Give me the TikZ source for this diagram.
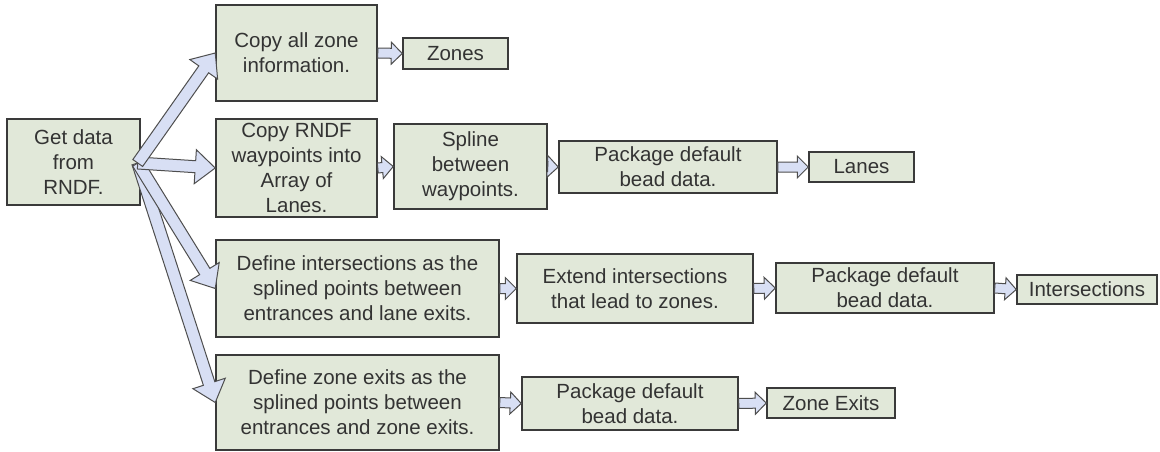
\documentclass[tikz,border=0pt]{standalone}
\usepackage{fontspec}
\setmainfont{Liberation Sans}
\usetikzlibrary{calc}
\definecolor{boxfill}{HTML}{E1E8D9}
\definecolor{boxline}{HTML}{3A3A3A}
\definecolor{arrfill}{HTML}{D8DFF4}
\definecolor{txt}{HTML}{333333}

% hollow block arrow: from, to, half shaft, half head, head length
\newcommand{\fatarrow}[5]{%
  \path (#1) coordinate (fa_s) (#2) coordinate (fa_t);
  \path ($(fa_t)!#5!(fa_s)$) coordinate (fa_h);
  \draw[arrowbox] ($(fa_s)!#3!90:(fa_t)$) -- ($(fa_h)!#3!90:(fa_t)$) -- ($(fa_h)!#4!90:(fa_t)$)
    -- (fa_t) -- ($(fa_h)!#4!-90:(fa_t)$) -- ($(fa_h)!#3!-90:(fa_t)$) -- ($(fa_s)!#3!-90:(fa_t)$) -- cycle;
}

\begin{document}
\begin{tikzpicture}[x=1pt,y=-1pt,
    stepbox/.style={draw=boxline,line width=1.5pt,fill=boxfill,text=txt,inner sep=0pt,align=center,
      font=\fontsize{20.5}{25}\selectfont},
    arrowbox/.style={draw=boxline!90,line width=1pt,fill=arrfill,line join=miter}]
  \useasboundingbox[fill=white] (0,0) rectangle (1160,452);

  \node[stepbox,minimum width=133,minimum height=86] (get) at (73.5,162) {Get data\\from\\RNDF.};

  % zones
  \node[stepbox,minimum width=161,minimum height=96] (copy_zone) at (296.5,53) {Copy all zone\\information.};
  \node[stepbox,minimum width=105,minimum height=31] (zones) at (455.5,53.5) {Zones};

  % lanes
  \node[stepbox,minimum width=161,minimum height=98] (copy_rndf) at (296.5,168) {Copy RNDF\\waypoints into\\Array of\\Lanes.};
  \node[stepbox,minimum width=153,minimum height=85] (spline) at (470.5,166.5) {Spline\\between\\waypoints.};
  \node[stepbox,minimum width=218,minimum height=52] (pkg_lanes) at (668,167) {Package default\\bead data.};
  \node[stepbox,minimum width=105,minimum height=30] (lanes) at (861.5,167) {Lanes};

  % intersections
  \node[stepbox,minimum width=283,minimum height=97] (def_int) at (357.5,288.5) {Define intersections as the\\splined points between\\entrances and lane exits.};
  \node[stepbox,minimum width=236,minimum height=69] (ext_int) at (635,288.5) {Extend intersections\\that lead to zones.};
  \node[stepbox,minimum width=218,minimum height=50] (pkg_int) at (885,288) {Package default\\bead data.};
  \node[stepbox,minimum width=140,minimum height=29] (inter) at (1087,289.5) {Intersections};

  % zone exits
  \node[stepbox,minimum width=283,minimum height=95] (def_exit) at (357.5,402.5) {Define zone exits as the\\splined points between\\entrances and zone exits.};
  \node[stepbox,minimum width=216,minimum height=53] (pkg_exit) at (630,403.5) {Package default\\bead data.};
  \node[stepbox,minimum width=128,minimum height=30] (exits) at (831,403) {Zone Exits};

  \coordinate (fan) at ($(get.east)+(-3,1)$);
  \fatarrow{fan}{def_exit.west}{6pt}{17pt}{20pt}
  \fatarrow{fan}{def_int.west}{6pt}{17pt}{20pt}
  \fatarrow{fan}{copy_rndf.west}{6pt}{17pt}{20pt}
  \fatarrow{fan}{copy_zone.west}{6pt}{17pt}{20pt}

  \fatarrow{copy_zone.east}{zones.west}{5pt}{11pt}{11pt}
  \fatarrow{copy_rndf.east}{spline.west}{5pt}{11pt}{11pt}
  \fatarrow{spline.east}{pkg_lanes.west}{5pt}{11pt}{11pt}
  \fatarrow{pkg_lanes.east}{lanes.west}{5pt}{11pt}{11pt}
  \fatarrow{def_int.east}{ext_int.west}{5pt}{11pt}{11pt}
  \fatarrow{ext_int.east}{pkg_int.west}{5pt}{11pt}{11pt}
  \fatarrow{pkg_int.east}{inter.west}{5pt}{11pt}{11pt}
  \fatarrow{def_exit.east}{pkg_exit.west}{5pt}{11pt}{11pt}
  \fatarrow{pkg_exit.east}{exits.west}{5pt}{11pt}{11pt}
\end{tikzpicture}
\end{document}
